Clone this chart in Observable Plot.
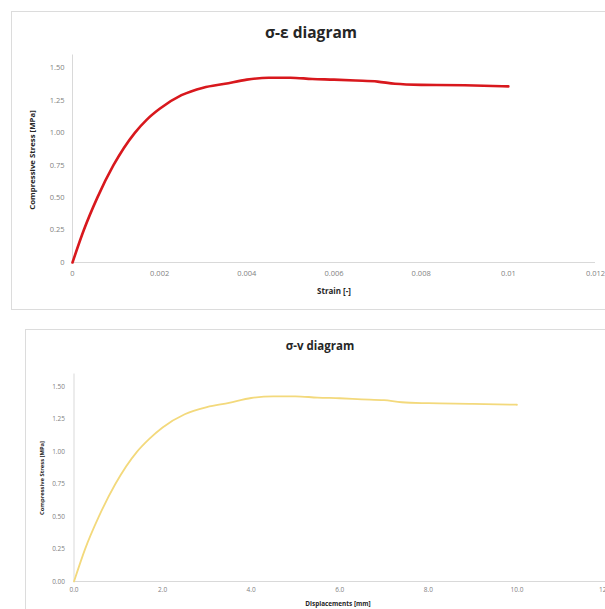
<!DOCTYPE html>
<html>
<head>
<meta charset="utf-8">
<script src="https://cdn.jsdelivr.net/npm/d3@7"></script>
<script src="https://cdn.jsdelivr.net/npm/@observablehq/plot@0.6"></script>
<style>
  html, body { margin: 0; padding: 0; background: #fff; }
  #page { position: relative; width: 605px; height: 609px; overflow: hidden; font-family: "Open Sans", sans-serif; }
  .box { position: absolute; border: 1px solid #dcdcdc; box-sizing: border-box; }
  .title { position: absolute; font-weight: bold; color: #262626; white-space: nowrap; transform: translate(-50%, -50%); }
  .lab { position: absolute; font-weight: bold; color: #262626; white-space: nowrap; transform: translate(-50%, -50%); }
  .plot { position: absolute; left: 0; }
</style>
</head>
<body>
<div id="page">
  <div class="box" style="left:11px; top:11px; width:610px; height:299px;"></div>
  <div class="box" style="left:25px; top:329px; width:610px; height:300px;"></div>
  <div class="title" style="left:311px; top:32px; font-size:15.5px;">σ-ε diagram</div>
  <div class="title" style="left:320px; top:345px; font-size:11.5px;">σ-v diagram</div>
  <div class="lab" style="left:334px; top:290px; font-size:8px;">Strain [-]</div>
  <div class="lab" style="left:32px; top:160px; font-size:7.8px; transform: translate(-50%, -50%) rotate(-90deg);">Compressive Stress [MPa]</div>
  <div class="lab" style="left:338px; top:603px; font-size:6.4px;">Displacements [mm]</div>
  <div class="lab" style="left:42px; top:478px; font-size:5.8px; transform: translate(-50%, -50%) rotate(-90deg);">Compressive Stress [MPa]</div>
  <div id="c1" class="plot" style="top:0px;"></div>
  <div id="c2" class="plot" style="top:320px;"></div>
</div>
<script>
// Chart 1: stress-strain
const strain = [0, 0.00026, 0.00057, 0.00094, 0.00143, 0.0017, 0.002, 0.0025, 0.003, 0.0035, 0.004, 0.0045, 0.005, 0.0055, 0.006, 0.0065, 0.007, 0.0074, 0.008, 0.009, 0.01];
const stress1 = [0, 0.25, 0.5, 0.75, 1.0, 1.1, 1.185, 1.29, 1.348, 1.378, 1.41, 1.425, 1.425, 1.415, 1.41, 1.403, 1.395, 1.378, 1.37, 1.367, 1.358];
const xTicks1 = [0, 0.002, 0.004, 0.006, 0.008, 0.01, 0.012];
const xTickLabels1 = ["0", "0.002", "0.004", "0.006", "0.008", "0.01", "0.012"];
const yTicks1 = [0, 0.25, 0.5, 0.75, 1.0, 1.25, 1.5];
const yTickLabels1 = ["0", "0.25", "0.50", "0.75", "1.00", "1.25", "1.50"];

// Chart 2: stress-displacement
const displacement = [0, 0.25, 0.56, 0.93, 1.42, 1.7, 2.0, 2.5, 3.0, 3.5, 4.0, 4.5, 5.0, 5.5, 6.0, 6.5, 7.0, 7.4, 8.0, 9.0, 10.0];
const stress2 = [0, 0.25, 0.5, 0.75, 1.0, 1.1, 1.188, 1.29, 1.345, 1.378, 1.415, 1.428, 1.428, 1.418, 1.413, 1.405, 1.398, 1.382, 1.375, 1.37, 1.363];
const xTicks2 = [0, 2, 4, 6, 8, 10, 12];
const xTickLabels2 = ["0.0", "2.0", "4.0", "6.0", "8.0", "10.0", "12.0"];
const yTicks2 = [0, 0.25, 0.5, 0.75, 1.0, 1.25, 1.5];
const yTickLabels2 = ["0.00", "0.25", "0.50", "0.75", "1.00", "1.25", "1.50"];

function chart({xs, ys, xTicks, xLabels, yTicks, yLabels, xMax, color, sw, width, height, mt, mb, ml, mr, fs, xPad, yPad}) {
  const data = xs.map((x, i) => ({x, y: ys[i]}));
  return Plot.plot({
    width, height,
    marginTop: mt, marginBottom: mb, marginLeft: ml, marginRight: mr,
    style: {fontFamily: "'Open Sans', sans-serif", color: "#7f7f7f", overflow: "visible"},
    x: {domain: [0, xMax]},
    y: {domain: [0, 1.6]},
    marks: [
      Plot.ruleY([0], {x1: 0, x2: xMax, stroke: "#d9d9d9", strokeWidth: 1}),
      Plot.ruleX([0], {y1: 0, y2: 1.6, stroke: "#d9d9d9", strokeWidth: 1}),
      Plot.axisX({ticks: xTicks, tickFormat: d => xLabels[xTicks.indexOf(d)], tickSize: 0, tickPadding: xPad, fontSize: fs, label: null, fill: "#7f7f7f"}),
      Plot.axisY({ticks: yTicks, tickFormat: d => yLabels[yTicks.indexOf(d)], tickSize: 0, tickPadding: yPad, fontSize: fs, label: null, fill: "#7f7f7f"}),
      Plot.line(data, {x: "x", y: "y", stroke: color, strokeWidth: sw, curve: "monotone-x"})
    ]
  });
}

document.getElementById("c1").appendChild(chart({
  xs: strain, ys: stress1, xTicks: xTicks1, xLabels: xTickLabels1, yTicks: yTicks1, yLabels: yTickLabels1,
  xMax: 0.012, color: "#d8181d", sw: 2.6, width: 605, height: 320, mt: 54.5, mb: 58, ml: 72, mr: 10, fs: 7.5, xPad: 8, yPad: 8
}));
document.getElementById("c2").appendChild(chart({
  xs: displacement, ys: stress2, xTicks: xTicks2, xLabels: xTickLabels2, yTicks: yTicks2, yLabels: yTickLabels2,
  xMax: 12, color: "#f3d97c", sw: 1.8, width: 605, height: 289, mt: 53.5, mb: 28, ml: 73.5, mr: 0, fs: 6.5, xPad: 5.5, yPad: 9
}));
</script>
</body>
</html>
